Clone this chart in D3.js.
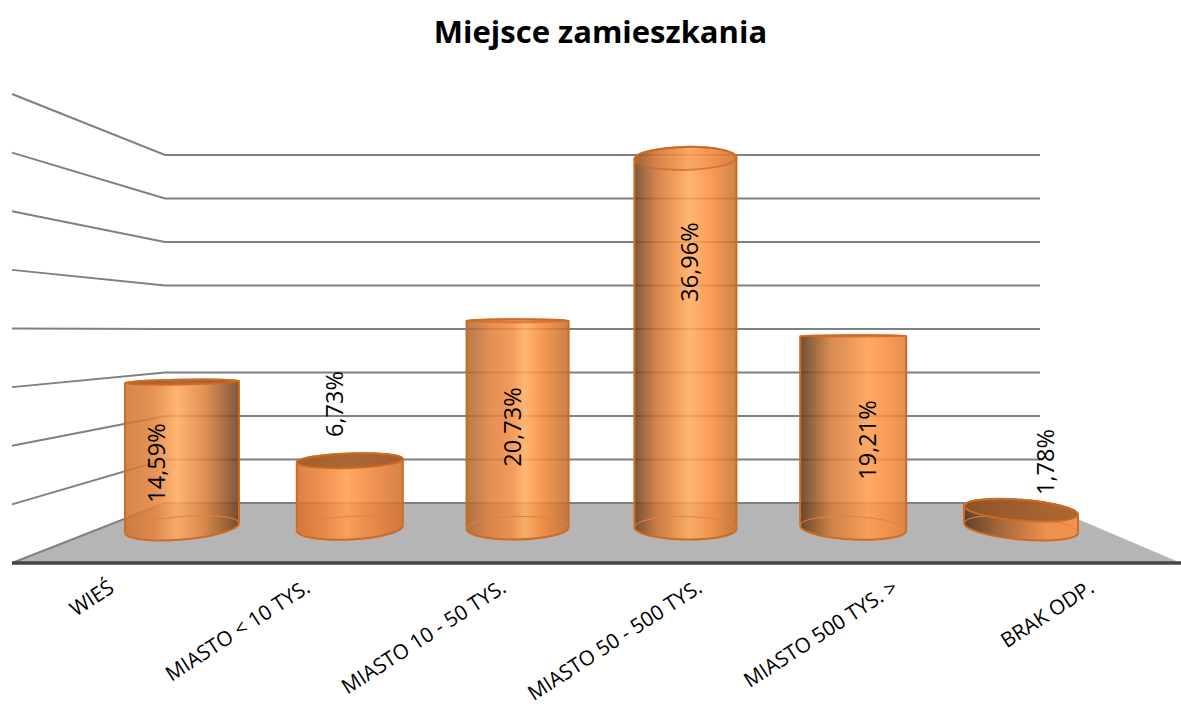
<!DOCTYPE html>
<html><head><meta charset="utf-8">
<style>html,body{margin:0;background:#fff}svg{display:block}</style>
<script src="https://cdn.jsdelivr.net/npm/d3@7/dist/d3.min.js"></script></head>
<body><svg id="c" width="1181" height="709"></svg>
<script>
const title = "Miejsce zamieszkania";
const categories = ["WIEŚ","MIASTO < 10 TYS.","MIASTO 10 - 50 TYS.","MIASTO 50 - 500 TYS.","MIASTO 500 TYS. >","BRAK ODP."];
const values = [14.59,6.73,20.73,36.96,19.21,1.78];
const valueLabels = ["14,59%","6,73%","20,73%","36,96%","19,21%","1,78%"];
const labelLevels = [6.5,12.4,10.1,26.6,8.8,6.6];
const gridTicks = d3.range(0,45,5);
const barShading = [
  [[0,"#cc7434"],[.25,"#e2823c"],[.46,"#ffaa5c"],[.7,"#dc803c"],[1,"#6a3e1e"]],
  [[0,"#d66e2a"],[.25,"#ee8238"],[.47,"#ff9e4e"],[.7,"#f0843a"],[1,"#d0702c"]],
  [[0,"#ad6830"],[.22,"#de7e3c"],[.44,"#f08c42"],[.57,"#ffac5e"],[.72,"#fa8c3e"],[1,"#c26e2c"]],
  [[0,"#6a4020"],[.2,"#c67034"],[.4,"#f09044"],[.54,"#ffac5e"],[.75,"#fa8c3e"],[1,"#c6702e"]],
  [[0,"#5a361a"],[.28,"#d07838"],[.64,"#ff9c4c"],[.82,"#fa8c3e"],[1,"#de7e34"]],
  [[0,"#503016"],[.3,"#a05a28"],[.73,"#f68c3e"],[1,"#fa8e42"]]
];

const svg = d3.select("#c");
const font = "'Open Sans',sans-serif";
const defs = svg.append("defs");

// scales
const xBar = d3.scalePoint().domain(categories).range([182,1021]);
const xText = d3.scalePoint().domain(categories).range([115,1095]);
const yBar = d3.scaleLinear().domain([0,40]).range([528,128]);
const yBack = d3.scaleLinear().domain([0,40]).range([503,155]);
const ySide = d3.scaleLinear().domain([0,40]).range([563,94]);
const midX = 602, eyeY = 345;
const width = d3.scaleLinear().domain([84,252,420]).range([102,106,114]);
const ry = y => Math.min(0.063*Math.abs(y-eyeY), 11.5);
const tilt = (dx,y) => Math.atan(dx*(y-eyeY)*1.13e-6)*180/Math.PI;

// title
svg.append("text").attr("x",600.5).attr("y",43).attr("text-anchor","middle")
  .attr("font-family",font).attr("font-weight",700).attr("font-size",31).attr("fill","#000").text(title);

// floor
svg.append("polygon").attr("fill","#b5b5b5")
  .attr("points",[[12,ySide(0)],[165,yBack(0)],[1040,yBack(0)],[1181,ySide(0)]].join(" "));

// grid
const grid = svg.append("g").attr("fill","none").attr("stroke","#808080").attr("stroke-width",2);
grid.selectAll("path").data(gridTicks).join("path")
  .attr("d",v=>`M12,${ySide(v)}L165,${yBack(v)}L1040,${yBack(v)}`);
svg.append("line").attr("x1",12).attr("x2",1181).attr("y1",ySide(0)).attr("y2",ySide(0))
  .attr("stroke","#454545").attr("stroke-width",3.5);

// bars
const ell = (cx,cy,y,dx)=>`translate(${cx},${cy}) rotate(${tilt(dx,y)})`;
categories.forEach((c,i)=>{
  const cx = xBar(c), dx = cx-midX, w = width(Math.abs(dx)), rx = w/2;
  const yb = yBar(0), yt = yBar(values[i]), rb = ry(yb), rt = ry(yt);
  const id = "g"+i;
  const g = defs.append("linearGradient").attr("id",id);
  barShading[i].forEach(s=>g.append("stop").attr("offset",s[0]).attr("stop-color",s[1]));

  const bar = svg.append("g");
  const a = tilt(dx,yb)*Math.PI/180, b = tilt(dx,yt)*Math.PI/180;
  const lx=cx-rx, rxx=cx+rx;
  const by = s=>yb+s*rx*Math.tan(a), ty=s=>yt+s*rx*Math.tan(b);
  const stroke = "#cf6a22";
  bar.append("path").attr("fill",`url(#${id})`).attr("fill-opacity",0.87).attr("stroke",stroke).attr("stroke-width",2)
    .attr("d",`M${lx},${ty(-1)}L${lx},${by(-1)}A${rx},${rb} ${tilt(dx,yb)} 0 0 ${rxx},${by(1)}L${rxx},${ty(1)}`
      + `A${rx},${rt} ${tilt(dx,yt)} 0 0 ${lx},${ty(-1)}Z`);
  // base back rim
  bar.append("path").attr("fill","none").attr("stroke","#e8803a").attr("stroke-width",1)
    .attr("d",`M${lx},${by(-1)}A${rx},${rb} ${tilt(dx,yb)} 0 1 ${rxx},${by(1)}`);
  // top cap
  bar.append("ellipse").attr("rx",rx).attr("ry",rt).attr("transform",ell(cx,yt,yt,dx))
    .attr("fill",yt<eyeY?"#e8803a":"#96572b").attr("fill-opacity",yt<eyeY?0.25:0.8)
    .attr("stroke",stroke).attr("stroke-opacity",yt<eyeY?0.7:1).attr("stroke-width",2);
});

// value labels
svg.append("g").selectAll("text").data(categories).join("text")
  .attr("transform",(c,i)=>`translate(${xBar(c)+(xBar(c)-midX)*0.06+8},${yBar(labelLevels[i])}) rotate(-90)`)
  .attr("text-anchor","middle").attr("font-family",font).attr("font-size",23.5).attr("fill","#000")
  .text((c,i)=>valueLabels[i]);

// category axis
const axis = svg.append("g").attr("transform","translate(0,591)")
  .call(d3.axisBottom(xText).tickSize(0).tickPadding(0));
axis.select(".domain").remove();
axis.selectAll("text").attr("font-family",font).attr("font-size",20.6).attr("fill","#000")
  .attr("text-anchor","end").attr("dy",0).attr("transform","rotate(-33)");
</script></body></html>
